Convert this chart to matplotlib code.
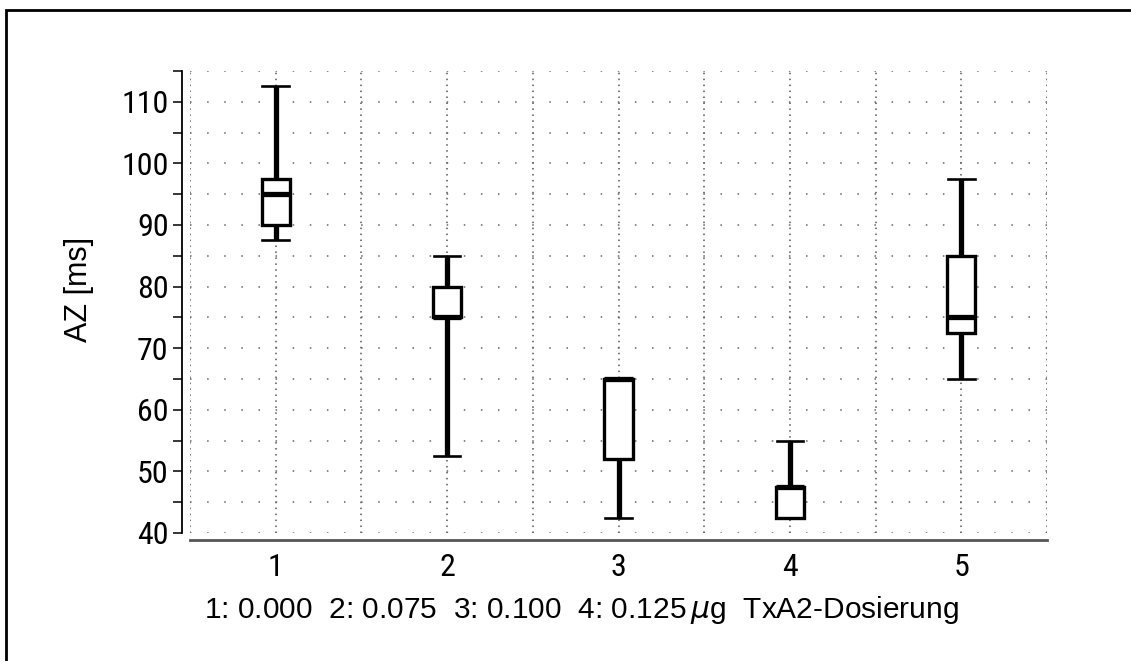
import numpy as np
import matplotlib
matplotlib.use("Agg")
import matplotlib.pyplot as plt
from matplotlib.patches import Rectangle

# Daten
gruppen = [1, 2, 3, 4, 5]
whis_unten = [87.5, 52.5, 42.5, 42.5, 65.0]
q1 = [90.0, 75.0, 52.0, 42.5, 72.5]
median = [95.0, 75.0, 65.0, 47.5, 75.0]
q3 = [97.5, 80.0, 65.0, 47.5, 85.0]
whis_oben = [112.5, 85.0, 65.0, 55.0, 97.5]

y_label = "AZ [ms]"
x_text = "1: 0.000  2: 0.075  3: 0.100  4: 0.125$\\,\\mu$g  TxA2-Dosierung"

tick_font = ['Roboto Condensed', 'Open Sans Condensed', 'Noto Sans Condensed',
             'DejaVu Sans']
text_font = ['Liberation Sans', 'DejaVu Sans']

fig = plt.figure(figsize=(11.31, 6.61), dpi=100)
ax = fig.add_axes([190 / 1131, 1 - 533 / 661, 857 / 1131, 462 / 661])

stats = []
for i in range(len(gruppen)):
    stats.append(dict(med=median[i], q1=q1[i], q3=q3[i],
                      whislo=whis_unten[i], whishi=whis_oben[i], fliers=[]))

ax.bxp(stats, positions=gruppen, widths=0.165, capwidths=0.155,
       patch_artist=True, showfliers=False,
       boxprops=dict(facecolor='white', edgecolor='black', linewidth=2.4),
       whiskerprops=dict(color='black', linewidth=3.8, solid_capstyle='butt'),
       capprops=dict(color='black', linewidth=1.9),
       medianprops=dict(color='black', linewidth=3.8, solid_capstyle='butt'),
       zorder=3)

ax.set_xlim(0.5, 5.5)
ax.set_ylim(40, 115)
ax.set_xticks(gruppen)
ax.set_xticks(np.arange(0.5, 5.6, 0.5), minor=True)
ax.set_yticks(np.arange(40, 111, 10))
ax.set_yticks(np.arange(45, 116, 10), minor=True)
ax.set_xticklabels([str(g) for g in gruppen])

# Gitter
ax.xaxis.grid(True, which='both', color='#555555', linewidth=1.1,
              linestyle=(0, (1, 2.9)))
ax.yaxis.grid(True, which='both', color='#666666', linewidth=1.1,
              linestyle=(0, (1, 10.2)))
ax.set_axisbelow(True)

# Achsen
for s in ['top', 'right']:
    ax.spines[s].set_visible(False)
ax.spines['left'].set_position(('outward', 5.8))
ax.spines['left'].set_bounds(40, 115)
ax.spines['left'].set_linewidth(1.3)
ax.spines['bottom'].set_position(('outward', 5.0))
ax.spines['bottom'].set_bounds(0.5, 5.5)
ax.spines['bottom'].set_linewidth(2.0)
ax.spines['bottom'].set_color('#555555')

ax.tick_params(axis='y', which='both', length=6.5, width=1.1, direction='out',
               pad=3, labelsize=23, color='black')
ax.tick_params(axis='x', which='both', length=0, pad=9.5, labelsize=23)
for lab in ax.get_xticklabels() + ax.get_yticklabels():
    lab.set_family(tick_font)
    lab.set_stretch('condensed')

fig.text(79 / 1131, 1 - 289 / 661, y_label, rotation=90, ha='center',
         va='center', fontsize=22, family=text_font)
fig.text(581 / 1131, 1 - 618 / 661, x_text, ha='center', va='baseline',
         fontsize=21.5, family=text_font)

# Rahmen (rechts und unten abgeschnitten)
fig.patches.append(Rectangle((6 / 1131, -0.1), 1.2, 1.1 - 10 / 661,
                             transform=fig.transFigure, fill=False,
                             edgecolor='black', linewidth=2.0))

fig.savefig('out.png', dpi=100)
